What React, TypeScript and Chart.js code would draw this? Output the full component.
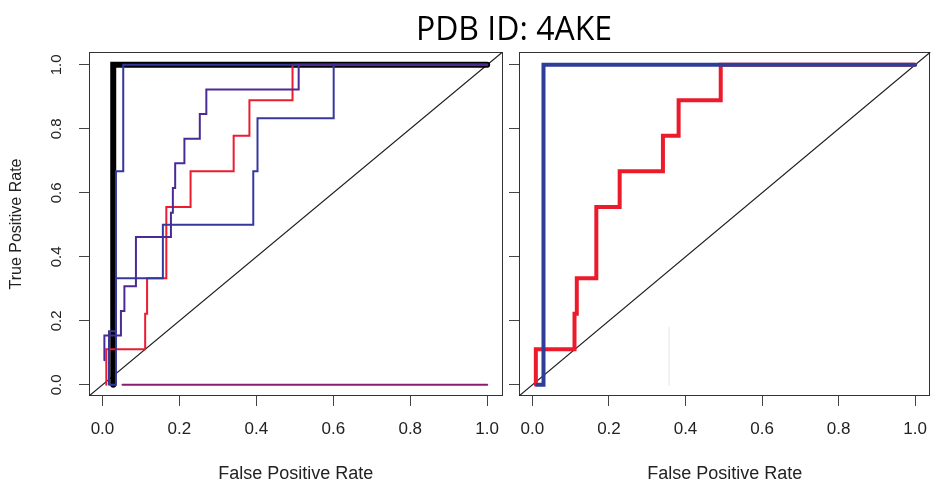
import React, { useEffect, useRef } from "react";
import { Chart, registerables } from "chart.js";

Chart.register(...registerables);

// Axis range (R-style padding around [0, 1]) and tick values
const AXIS_MIN = -0.035;
const AXIS_MAX = 1.04;
const TICK_VALUES = [0, 0.2, 0.4, 0.6, 0.8, 1.0];

// Reference diagonal y = x, spanning the whole plot box
const DIAG = [AXIS_MIN, AXIS_MAX];

// ---- Left panel ROC curves (false positive rate / true positive rate) ----
const BLACK_FPR = [0.028, 0.028, 1.0];
const BLACK_TPR = [0.0, 1.0, 1.0];

const NAVY_C_FPR = [0.02, 0.035, 0.035, 0.054, 0.054, 1.0];
const NAVY_C_TPR = [0.0, 0.0, 0.667, 0.667, 1.0, 1.0];

const NAVY_B_FPR = [0.017, 0.017, 0.035, 0.035, 0.157, 0.157, 0.392, 0.392, 0.403, 0.403, 0.601, 0.601, 1.0];
const NAVY_B_TPR = [0.0, 0.167, 0.167, 0.333, 0.333, 0.5, 0.5, 0.667, 0.667, 0.833, 0.833, 1.0, 1.0];

const INDIGO_FPR = [0.005, 0.005, 0.048, 0.048, 0.057, 0.057, 0.087, 0.087, 0.178, 0.178, 0.183, 0.183, 0.189, 0.189, 0.213, 0.213, 0.253, 0.253, 0.27, 0.27, 0.51, 0.51, 1.0];
const INDIGO_TPR = [0.077, 0.154, 0.154, 0.231, 0.231, 0.308, 0.308, 0.462, 0.462, 0.538, 0.538, 0.615, 0.615, 0.692, 0.692, 0.769, 0.769, 0.846, 0.846, 0.923, 0.923, 1.0, 1.0];

const RED_FPR = [0.01, 0.01, 0.111, 0.111, 0.116, 0.116, 0.166, 0.166, 0.229, 0.229, 0.341, 0.341, 0.382, 0.382, 0.494, 0.494, 1.0];
const RED_TPR = [0.0, 0.111, 0.111, 0.222, 0.222, 0.333, 0.333, 0.556, 0.556, 0.667, 0.667, 0.778, 0.778, 0.889, 0.889, 1.0, 1.0];

const MAGENTA_FPR = [0.052, 1.0];
const MAGENTA_TPR = [0.0, 0.0];

// ---- Right panel ROC curves ----
const R_BLUE_FPR = [0.013, 0.029, 0.029, 1.0];
const R_BLUE_TPR = [0.0, 0.0, 1.0, 1.0];

const R_RED_FPR = [0.009, 0.009, 0.11, 0.11, 0.116, 0.116, 0.167, 0.167, 0.228, 0.228, 0.341, 0.341, 0.382, 0.382, 0.492, 0.492, 1.0];
const R_RED_TPR = [0.0, 0.111, 0.111, 0.222, 0.222, 0.333, 0.333, 0.556, 0.556, 0.667, 0.667, 0.778, 0.778, 0.889, 0.889, 1.0, 1.0];

const FAINT_FPR = [0.357, 0.357];
const FAINT_TPR = [-0.002, 0.18];

const FONT = "'Liberation Sans', Arial, Helvetica, sans-serif";
const TEXT = "#222";

const pts = (xs: number[], ys: number[]) => xs.map((x, i) => ({ x, y: ys[i] }));

const curve = (xs: number[], ys: number[], color: string, width: number) => ({
  data: pts(xs, ys),
  borderColor: color,
  borderWidth: width,
  pointRadius: 0,
  tension: 0,
  fill: false,
  borderCapStyle: "round" as const,
  borderJoinStyle: "miter" as const,
});

// Frame drawn around the plotting region, like R's box()
const boxPlugin = {
  id: "panelBox",
  beforeDatasetsDraw(chart: any) {
    const { ctx, chartArea: a } = chart;
    ctx.save();
    ctx.strokeStyle = "#333";
    ctx.lineWidth = 1;
    const l = Math.round(a.left) + 0.5;
    const t = Math.round(a.top) + 0.5;
    const r = Math.round(a.right) - 0.5;
    const b = Math.round(a.bottom) - 0.5;
    ctx.strokeRect(l, t, r - l, b - t);
    ctx.restore();
  },
};

const fmt = (v: any) => Number(v).toFixed(1);

function xAxis() {
  return {
    type: "linear" as const,
    min: AXIS_MIN,
    max: AXIS_MAX,
    afterBuildTicks: (s: any) => {
      s.ticks = TICK_VALUES.map((value) => ({ value }));
    },
    afterFit: (s: any) => {
      s.height = 87;
    },
    grid: { display: true, drawOnChartArea: false, drawTicks: true, tickLength: 10, color: "#444", lineWidth: 1 },
    border: { display: false },
    ticks: { font: { family: FONT, size: 17 }, color: TEXT, padding: 13, maxRotation: 0, autoSkip: false, callback: fmt },
    title: {
      display: true,
      text: "False Positive Rate",
      font: { family: FONT, size: 18 },
      color: TEXT,
      padding: { top: 0, bottom: -2 },
    },
  };
}

function yAxis(withLabels: boolean, width: number) {
  return {
    type: "linear" as const,
    min: AXIS_MIN,
    max: AXIS_MAX,
    afterBuildTicks: (s: any) => {
      s.ticks = TICK_VALUES.map((value) => ({ value }));
    },
    afterFit: (s: any) => {
      s.width = width;
    },
    grid: { display: true, drawOnChartArea: false, drawTicks: true, tickLength: 10, color: "#444", lineWidth: 1 },
    border: { display: false },
    ticks: {
      display: withLabels,
      font: { family: FONT, size: 15 },
      color: TEXT,
      padding: 12,
      minRotation: 90,
      maxRotation: 90,
      crossAlign: "center" as const,
      autoSkip: false,
      callback: fmt,
    },
    title: {
      display: withLabels,
      text: "True Positive Rate",
      font: { family: FONT, size: 16 },
      color: TEXT,
      padding: { top: 7, bottom: 0 },
    },
  };
}

function baseOptions(withYLabels: boolean, yWidth: number) {
  return {
    responsive: false,
    maintainAspectRatio: false,
    animation: false as const,
    layout: { padding: { left: 0, right: 0, top: 52, bottom: 0 }, autoPadding: false },
    plugins: { legend: { display: false }, tooltip: { enabled: false }, title: { display: false } },
    scales: { x: xAxis(), y: yAxis(withYLabels, yWidth) },
  };
}

function LeftPanel() {
  const ref = useRef<HTMLCanvasElement>(null);
  useEffect(() => {
    if (!ref.current) return;
    const chart = new Chart(ref.current, {
      type: "line",
      data: {
        datasets: [
          curve(INDIGO_FPR, INDIGO_TPR, "#4a2b96", 2),
          curve(NAVY_B_FPR, NAVY_B_TPR, "#36389e", 2),
          curve(NAVY_C_FPR, NAVY_C_TPR, "#33369f", 2),
          curve(RED_FPR, RED_TPR, "#ec1b2e", 2),
          curve(MAGENTA_FPR, MAGENTA_TPR, "#8c1d6e", 2),
          curve(BLACK_FPR, BLACK_TPR, "#000000", 6),
          curve(DIAG, DIAG, "#222222", 1.2),
        ] as any,
      },
      options: baseOptions(true, 89) as any,
      plugins: [boxPlugin],
    });
    return () => chart.destroy();
  }, []);
  return <canvas ref={ref} width={512} height={483} style={{ position: "absolute", left: 0, top: 0, display: "block" }} />;
}

function RightPanel() {
  const ref = useRef<HTMLCanvasElement>(null);
  useEffect(() => {
    if (!ref.current) return;
    const chart = new Chart(ref.current, {
      type: "line",
      data: {
        datasets: [
          curve(R_BLUE_FPR, R_BLUE_TPR, "#2e3d98", 4),
          curve(R_RED_FPR, R_RED_TPR, "#ec1b2c", 4),
          curve(FAINT_FPR, FAINT_TPR, "#e4e4e4", 1),
          curve(DIAG, DIAG, "#222222", 1.2),
        ] as any,
      },
      options: baseOptions(false, 14) as any,
      plugins: [boxPlugin],
    });
    return () => chart.destroy();
  }, []);
  return <canvas ref={ref} width={435} height={483} style={{ position: "absolute", left: 505, top: 0, display: "block" }} />;
}

export default function App() {
  return (
    <div style={{ position: "absolute", left: 0, top: 0, width: 933, height: 483, background: "#fff", overflow: "hidden" }}>
      <LeftPanel />
      <RightPanel />
      <div
        style={{
          position: "absolute",
          left: 314,
          top: 12,
          width: 400,
          textAlign: "center",
          fontFamily: "'Open Sans', sans-serif",
          fontSize: 32,
          lineHeight: "32px",
          color: "#000",
        }}
      >
        PDB ID: 4AKE
      </div>
    </div>
  );
}
